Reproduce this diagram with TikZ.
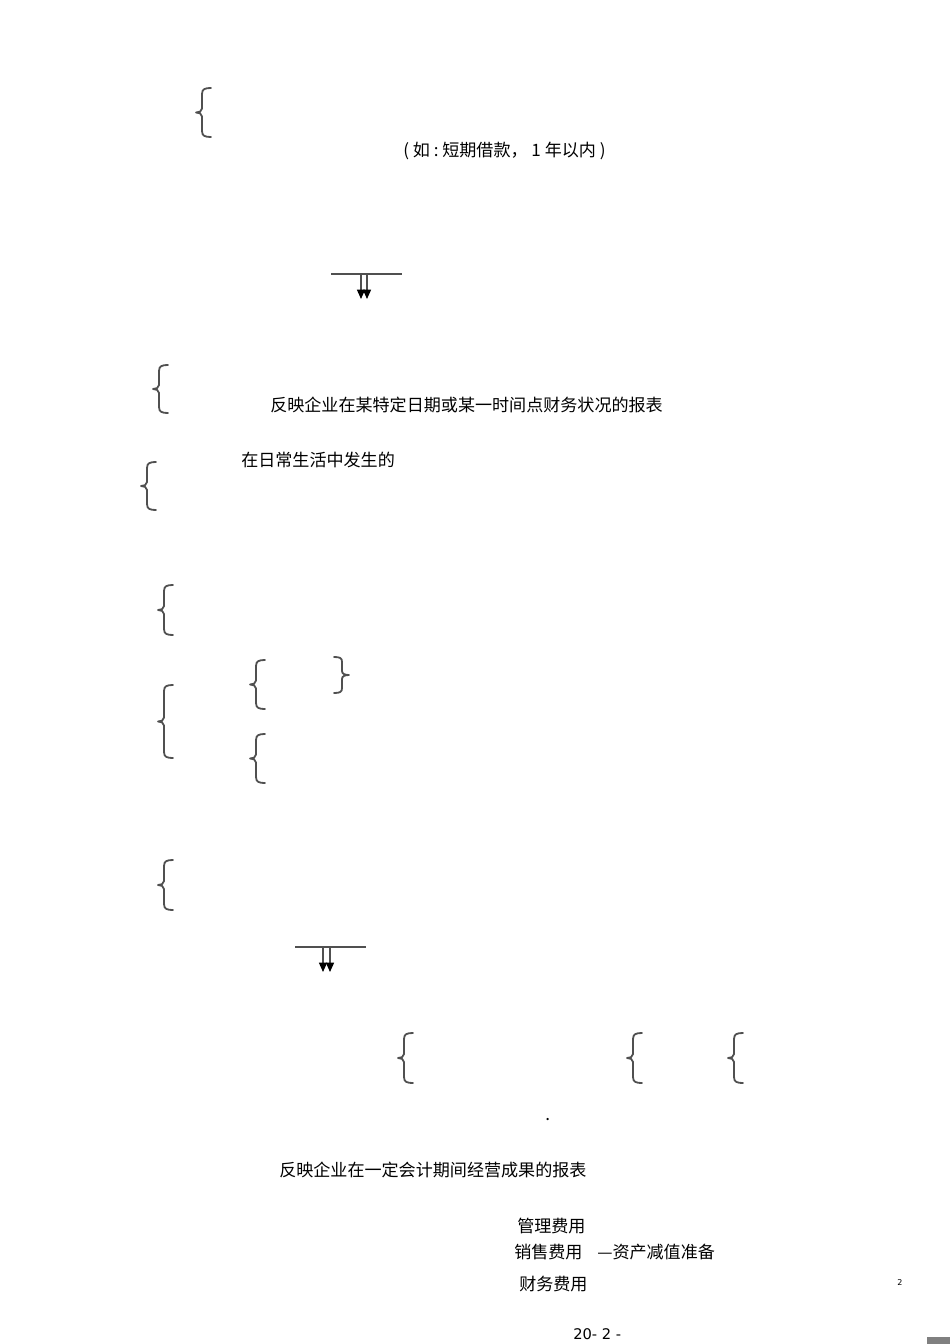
\documentclass[tikz,border=0pt]{standalone}
\usepackage{fontspec}
\usetikzlibrary{arrows.meta}
\newfontfamily\cjk{Noto Sans CJK SC}
\newfontfamily\dejavu{DejaVu Sans}
\definecolor{bracegray}{HTML}{505050}
\begin{document}
\begin{tikzpicture}[x=0.75pt,y=-0.75pt]
	\tikzstyle{brc} = [draw=bracegray, line width=1.35pt, line cap=round, line join=round];
	\tikzstyle{txt} = [anchor=west, inner sep=0pt, font={\cjk\fontsize{12.8}{15}\selectfont}];
	\tikzstyle{bar} = [draw=bracegray, line width=0.9pt];
	\tikzstyle{down} = [draw=bracegray, -{Triangle[width=6pt,length=7pt,color=black]}, line width=1pt];

	\useasboundingbox (0,0) rectangle (950,1344);

	% left braces: x / top / bottom
	\foreach \x/\t/\b [count=\i] in {211/88/137, 168/365/413, 156/462/510, 173/585/635, 173/685/758, 265/660/709, 265/734/783, 173/860/910, 413/1033/1083, 642/1033/1083, 743/1033/1083} {
		\coordinate (bt\i) at (\x,\t);
		\coordinate (bb\i) at (\x,\b);
		\pgfmathsetmacro{\m}{(\t+\b)/2}
		\draw[brc] (bt\i) .. controls (\x-6,\t) and (\x-9,\t+1) .. (\x-9,\t+6)
			-- (\x-9,\m-4) .. controls (\x-9,\m-1) and (\x-12,\m) .. (\x-15,\m)
			.. controls (\x-12,\m) and (\x-9,\m+1) .. (\x-9,\m+4)
			-- (\x-9,\b-6) .. controls (\x-9,\b-1) and (\x-6,\b) .. (bb\i);
	}
	% right brace
	\coordinate (rt) at (334,657);
	\coordinate (rb) at (334,693);
	\draw[brc] (rt) .. controls (340,657) and (342,658) .. (342,662)
		-- (342,671) .. controls (342,674) and (345,675) .. (349,675)
		.. controls (345,675) and (342,676) .. (342,679)
		-- (342,688) .. controls (342,692) and (340,693) .. (rb);

	% double arrows under a bar
	\foreach \l/\r/\y/\a/\b [count=\i] in {331/402/274/361/367, 295/366/947/323/330} {
		\coordinate (bl\i) at (\l,\y);
		\coordinate (br\i) at (\r,\y);
		\draw[bar] (bl\i) -- (br\i);
		\foreach \x in {\a,\b}
			\draw[down] (\x,\y) -- (\x,\y+25);
	}

	\node[txt] (eg) at (403,151) {(~如~:~短期借款，~1~年以内~)};
	\node[txt] (bs) at (270,405) {反映企业在某特定日期或某一时间点财务状况的报表};
	\node[txt] (rc) at (241,460) {在日常生活中发生的};
	\node[txt] (dt) at (545,1120) {.};
	\node[txt] (is) at (279,1170) {反映企业在一定会计期间经营成果的报表};
	\node[txt] (gl) at (517,1226) {管理费用};
	\node[txt] (xs) at (514,1252) {销售费用};
	\node[txt] (zc) at (597,1252) {—资产减值准备};
	\node[txt] (cw) at (519,1284) {财务费用};
	\node[anchor=west, inner sep=0pt, font={\dejavu\fontsize{6}{7}\selectfont}] (pg) at (897,1283) {2};
	\node[anchor=west, inner sep=0pt, font={\dejavu\fontsize{11}{13}\selectfont}] (ft) at (573,1334) {20- 2 -};
	\fill[gray] (927,1337) rectangle (950,1344);
\end{tikzpicture}
\end{document}
